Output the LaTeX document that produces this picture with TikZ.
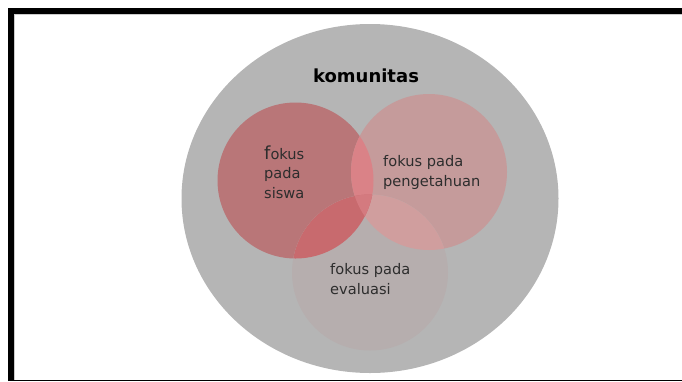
\documentclass[tikz,border=0pt]{standalone}
\usepackage{fontspec}
\setmainfont{DejaVu Sans}
\usetikzlibrary{positioning,shapes.geometric}
\definecolor{commgray}{RGB}{181,181,181}
\definecolor{sisred}{RGB}{185,118,120}
\definecolor{penpink}{RGB}{197,155,155}
\definecolor{evagray}{RGB}{182,174,174}
\definecolor{redpink}{RGB}{218,130,135}
\definecolor{redeva}{RGB}{200,106,110}
\definecolor{pinkeva}{RGB}{208,158,158}
\definecolor{allthree}{RGB}{212,122,127}
\definecolor{labelgray}{RGB}{45,45,45}
\tikzset{
  outerset/.style={ellipse, fill=commgray, minimum width=377pt, minimum height=349pt, inner sep=0pt},
  setcircle/.style={circle, minimum size=156pt, inner sep=0pt},
  setlabel/.style={anchor=base west, align=left, inner sep=0pt, text=labelgray, font=\fontsize{14.6}{19.5}\selectfont},
  titlelabel/.style={anchor=base, inner sep=0pt, text=black, font=\fontsize{18}{20}\selectfont\bfseries}
}

\begin{document}
\begin{tikzpicture}[x=1pt, y=-1pt]
  \useasboundingbox (0,0) rectangle (682,381);
  % frame
  \draw[gray!40, line width=1pt] (14.5,381) -- (14.5,14.5) -- (682,14.5);
  \draw[line width=6pt] (11,381) -- (11,11) -- (682,11);
  \draw[line width=1.2pt] (11,380.4) -- (682,380.4);
  % sets
  \node[outerset] (komunitas) at (370,198.5) {};
  \node[setcircle, fill=sisred] (siswa) at (295.5,180.5) {};
  \node[setcircle, fill=penpink] (pengetahuan) at (429,172) {};
  \node[setcircle, fill=evagray] (evaluasi) at (370,272.5) {};
  % overlaps
  \begin{scope}
    \clip (pengetahuan.center) circle (78pt);
    \fill[pinkeva] (evaluasi.center) circle (78pt);
  \end{scope}
  \begin{scope}
    \clip (siswa.center) circle (78pt);
    \fill[redpink] (pengetahuan.center) circle (78pt);
    \fill[redeva] (evaluasi.center) circle (78pt);
    \clip (pengetahuan.center) circle (78pt);
    \fill[allthree] (evaluasi.center) circle (78pt);
  \end{scope}
  % labels
  \node[titlelabel] (komlabel) at (366,82) {komunitas};
  \node[setlabel] (sislabel) at (264,198) {{\fontsize{18}{18}\selectfont f}okus\\pada\\siswa};
  \node[setlabel] (penlabel) at (383,186) {fokus pada\\pengetahuan};
  \node[setlabel] (evalabel) at (330,294) {fokus pada\\evaluasi};
\end{tikzpicture}
\end{document}
